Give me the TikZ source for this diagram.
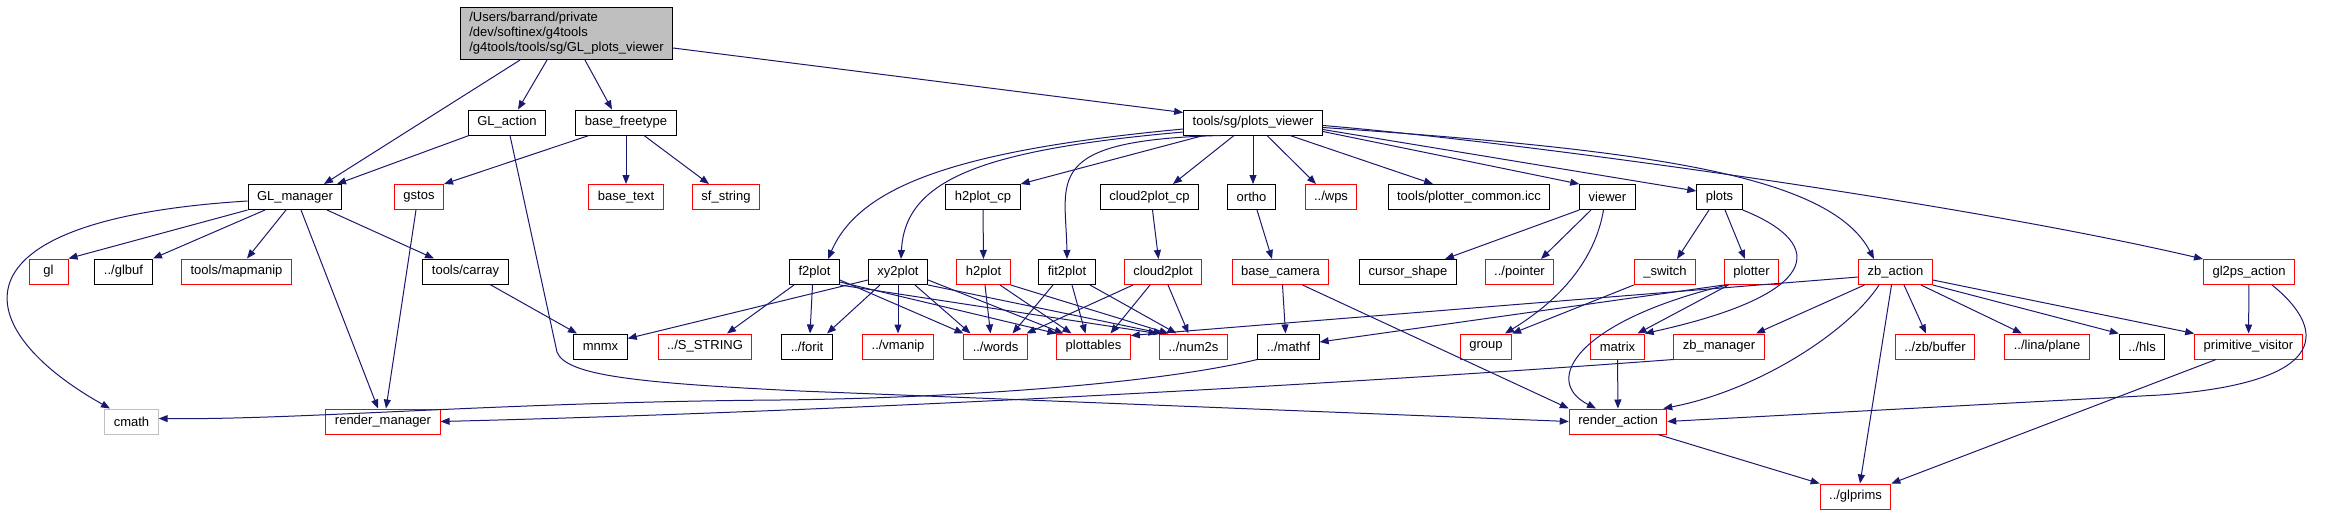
\documentclass[tikz,border=0pt]{standalone}
\usepackage{fontspec}
\setmainfont{Liberation Sans}
\usepackage{tikz}
\usetikzlibrary{arrows.meta}
\definecolor{edgeblue}{HTML}{191970}
\definecolor{rootgray}{HTML}{BFBFBF}

\begin{document}
\begin{tikzpicture}[x=1pt, y=-1pt,
    >={Triangle[length=9pt, width=7pt]},
    file/.style={draw=black, line width=1pt, fill=white, minimum height=25pt, minimum width=39pt, inner xsep=9pt, inner ysep=0pt, font=\fontsize{13}{15}\selectfont},
    undoc/.style={file, draw=red},
    syshdr/.style={file, draw=rootgray},
    mainfile/.style={file, fill=rootgray, align=left, inner ysep=5pt},
    dep/.style={->, draw=edgeblue, line width=1pt}]
    \useasboundingbox (0, 0) rectangle (2330, 515);

    % Root file
    \node[mainfile] (root) at (566.5, 33.5) {/Users/barrand/private\\/dev/softinex/g4tools\\/g4tools/tools/sg/GL\_plots\_viewer};

    % Row 2
    \node[file] (gla) at (507, 122.5) {GL\_action};
    \node[file] (bft) at (626, 122.5) {base\_freetype};
    \node[file] (psv) at (1253, 122.5) {tools/sg/plots\_viewer};

    % Row 3
    \node[file] (glm) at (295, 197) {GL\_manager};
    \node[undoc] (gst) at (419, 197) {gstos};
    \node[undoc] (btx) at (626, 197) {base\_text};
    \node[undoc] (sfs) at (726, 197) {sf\_string};
    \node[file] (h2c) at (983, 197) {h2plot\_cp};
    \node[file] (c2c) at (1149.5, 197) {cloud2plot\_cp};
    \node[file] (orth) at (1251.5, 197) {ortho};
    \node[undoc] (wps) at (1331, 197) {../wps};
    \node[file] (pcc) at (1469, 197) {tools/plotter\_common.icc};
    \node[file] (vwr) at (1607.5, 197) {viewer};
    \node[file] (plts) at (1719.5, 197) {plots};

    % Row 4
    \node[undoc] (gl) at (48.5, 271.5) {gl};
    \node[file] (glbuf) at (123.5, 271.5) {../glbuf};
    \node[undoc] (mapm) at (236.5, 271.5) {tools/mapmanip};
    \node[file] (carr) at (465.5, 271.5) {tools/carray};
    \node[file] (f2p) at (814.5, 272) {f2plot};
    \node[file] (xy2p) at (898, 272) {xy2plot};
    \node[undoc] (h2p) at (983.5, 272) {h2plot};
    \node[file] (fit) at (1067, 272) {fit2plot};
    \node[undoc] (c2p) at (1163, 272) {cloud2plot};
    \node[undoc] (bcam) at (1280.5, 272) {base\_camera};
    \node[file] (curs) at (1408, 272) {cursor\_shape};
    \node[undoc] (ptr) at (1519.5, 272) {../pointer};
    \node[undoc] (swi) at (1665, 272) {\_switch};
    \node[undoc] (pltr) at (1751.5, 272) {plotter};
    \node[undoc] (zba) at (1895.5, 272) {zb\_action};
    \node[undoc] (g2ps) at (2249, 272) {gl2ps\_action};

    % Row 5
    \node[file] (mnmx) at (600.5, 346.5) {mnmx};
    \node[undoc] (sstr) at (705, 346.5) {../S\_STRING};
    \node[file] (forit) at (807, 346.5) {../forit};
    \node[undoc] (vman) at (898, 346.5) {../vmanip};
    \node[undoc] (words) at (995.5, 346.5) {../words};
    \node[undoc] (pltb) at (1093.5, 346.5) {plottables};
    \node[undoc] (num2s) at (1193.5, 346.5) {../num2s};
    \node[file] (mathf) at (1288.5, 346.5) {../mathf};
    \node[undoc] (grp) at (1486, 346.5) {group};
    \node[undoc] (mtx) at (1617.5, 346.5) {matrix};
    \node[undoc] (zbm) at (1719, 346.5) {zb\_manager};
    \node[undoc] (zbbuf) at (1935, 346.5) {../zb/buffer};
    \node[undoc] (plane) at (2047, 346.5) {../lina/plane};
    \node[file] (hls) at (2142, 346.5) {../hls};
    \node[undoc] (pvis) at (2248.5, 346.5) {primitive\_visitor};

    % Rows 6 and 7
    \node[syshdr] (cmath) at (131.5, 421.5) {cmath};
    \node[undoc] (rman) at (383, 421.5) {render\_manager};
    \node[undoc] (ract) at (1618, 421.5) {render\_action};
    \node[undoc] (glpr) at (1855.5, 496.5) {../glprims};

    % Root includes
    \draw[dep] ([xshift=-46.5pt]root.south) -- ([xshift=29pt]glm.north);
    \draw[dep] ([xshift=-19.5pt]root.south) -- ([xshift=11pt]gla.north);
    \draw[dep] ([xshift=18.5pt]root.south) -- ([xshift=-14pt]bft.north);
    \draw[dep] ([yshift=-14.5pt]root.east) -- ([yshift=10pt]psv.west);

    % GL_action, base_freetype
    \draw[dep] ([xshift=-38pt]gla.south) -- ([xshift=42pt]glm.north);
    \draw[dep] ([xshift=3pt]gla.south) -- (557, 352) .. controls (566, 376) and (640, 383) .. (800, 391) -- (ract.west);
    \draw[dep] ([xshift=-37pt]bft.south) -- (gst.north east);
    \draw[dep] (bft) -- (btx);
    \draw[dep] ([xshift=18pt]bft.south) -- ([xshift=-17pt]sfs.north);

    % GL_manager
    \draw[dep] ([yshift=-4pt]glm.west) .. controls (-60, 220) and (-30, 330) .. ([xshift=-21.5pt]cmath.north);
    \draw[dep] (glm.south west) -- (gl.north east);
    \draw[dep] ([xshift=-30pt]glm.south) -- ([xshift=29.5pt]glbuf.north);
    \draw[dep] ([xshift=-9pt]glm.south) -- ([xshift=10.5pt]mapm.north);
    \draw[dep] ([xshift=6pt]glm.south) -- ([xshift=-5pt]rman.north);
    \draw[dep] ([xshift=32pt]glm.south) -- ([xshift=-31.5pt]carr.north);
    \draw[dep] ([xshift=-3pt]gst.south) -- ([xshift=3pt]rman.north);
    \draw[dep] ([xshift=24.5pt]carr.south) -- ([xshift=-23.5pt]mnmx.north);

    % plots_viewer
    \draw[dep] ([yshift=-6.5pt]psv.west) .. controls (960, 150) and (860, 185) .. ([xshift=13.5pt]f2p.north);
    \draw[dep] ([yshift=-9.5pt]psv.west) .. controls (980, 150) and (905, 180) .. ([xshift=3pt]xy2p.north);
    \draw[dep] ([xshift=-49.5pt]psv.south) -- (h2c.north east);
    \draw[dep] ([xshift=-32pt]psv.south) .. controls (1040, 140) and (1066, 180) .. (fit.north);
    \draw[dep] ([xshift=-19pt]psv.south) -- ([xshift=23.5pt]c2c.north);
    \draw[dep] (psv.south) -- ([xshift=1.5pt]orth.north);
    \draw[dep] ([xshift=14pt]psv.south) -- ([xshift=-15pt]wps.north);
    \draw[dep] ([xshift=37pt]psv.south) -- ([xshift=-36pt]pcc.north);
    \draw[dep] ([yshift=-9pt]psv.east) -- (vwr.north west);
    \draw[dep] ([yshift=-7pt]psv.east) -- ([yshift=6pt]plts.west);
    \draw[dep] ([yshift=-5pt]psv.east) .. controls (1650, 150) and (1830, 175) .. ([xshift=-21.5pt]zba.north);
    \draw[dep] ([yshift=-3pt]psv.east) .. controls (1500, 140) and (1950, 200) .. (g2ps.north west);

    % h2plot_cp, cloud2plot_cp, ortho
    \draw[dep] (h2c) -- (h2p);
    \draw[dep] ([xshift=3pt]c2c.south) -- ([xshift=-4.5pt]c2p.north);
    \draw[dep] ([xshift=5.5pt]orth.south) -- ([xshift=-8.5pt]bcam.north);

    % viewer, plots
    \draw[dep] (vwr.south west) -- ([xshift=37pt]curs.north);
    \draw[dep] ([xshift=-16.5pt]vwr.south) -- ([xshift=21.5pt]ptr.north);
    \draw[dep] ([xshift=-4pt]vwr.south) .. controls (1595, 260) and (1560, 300) .. ([xshift=19pt]grp.north);
    \draw[dep] ([xshift=-10.5pt]plts.south) -- ([xshift=12pt]swi.north);
    \draw[dep] ([xshift=5.5pt]plts.south) -- ([xshift=-6.5pt]pltr.north);
    \draw[dep] (plts.south east) .. controls (1830, 245) and (1820, 295) .. (mtx.north east);

    % _switch, plotter
    \draw[dep] (swi.south west) -- (grp.north east);
    \draw[dep] (pltr.south west) -- ([yshift=4.5pt]mathf.east);
    \draw[dep] ([xshift=-24.5pt]pltr.south) .. controls (1580, 320) and (1540, 380) .. ([xshift=-22pt]ract.north);
    \draw[dep] ([xshift=-23pt]pltr.south) -- ([xshift=20pt]mtx.north);

    % f2plot, xy2plot
    \draw[dep] ([xshift=-20.5pt]f2p.south) -- ([xshift=22pt]sstr.north);
    \draw[dep] ([xshift=-2pt]f2p.south) -- ([xshift=3pt]forit.north);
    \draw[dep] ([yshift=-8pt]f2p.east) -- ([xshift=-32pt]words.north);
    \draw[dep] ([yshift=-10pt]f2p.east) -- ([xshift=-37pt]pltb.north);
    \draw[dep] (f2p.south east) -- ([xshift=-36pt]num2s.north);
    \draw[dep] ([yshift=-8pt]xy2p.west) -- ([yshift=8pt]mnmx.east);
    \draw[dep] ([xshift=-18pt]xy2p.south) -- ([xshift=20pt]forit.north);
    \draw[dep] (xy2p) -- (vman);
    \draw[dep] ([xshift=17pt]xy2p.south) -- ([xshift=-25pt]words.north);
    \draw[dep] ([yshift=-8pt]xy2p.east) -- ([xshift=-30pt]pltb.north);
    \draw[dep] (xy2p.south east) -- ([xshift=-31pt]num2s.north);

    % h2plot, fit2plot, cloud2plot
    \draw[dep] ([xshift=1.5pt]h2p.south) -- ([xshift=-5pt]words.north);
    \draw[dep] ([xshift=16.5pt]h2p.south) -- ([xshift=-22pt]pltb.north);
    \draw[dep] (h2p.south east) -- ([xshift=-25pt]num2s.north);
    \draw[dep] ([xshift=-14pt]fit.south) -- ([xshift=17pt]words.north);
    \draw[dep] ([xshift=5pt]fit.south) -- ([xshift=-8pt]pltb.north);
    \draw[dep] ([xshift=23pt]fit.south) -- ([xshift=-17pt]num2s.north);
    \draw[dep] ([xshift=-30pt]c2p.south) -- ([xshift=31pt]words.north);
    \draw[dep] ([xshift=-13pt]c2p.south) -- ([xshift=17pt]pltb.north);
    \draw[dep] ([xshift=5pt]c2p.south) -- ([xshift=-5pt]num2s.north);

    % base_camera, mathf
    \draw[dep] ([xshift=2pt]bcam.south) -- ([xshift=-3pt]mathf.north);
    \draw[dep] ([xshift=22pt]bcam.south) -- (ract.north west);
    \draw[dep] (mathf.south west) .. controls (1150, 385) and (950, 398) .. (780, 400) .. controls (500, 402) and (300, 420) .. ([yshift=3pt]cmath.east);

    % zb_action
    \draw[dep] ([yshift=-5pt]zba.west) -- ([yshift=-2pt]pltb.north east);
    \draw[dep] ([xshift=-31pt]zba.south) -- ([xshift=37pt]zbm.north);
    \draw[dep] ([xshift=-16.5pt]zba.south) .. controls (1850, 330) and (1760, 390) .. ([xshift=-4pt]ract.north east);
    \draw[dep] ([xshift=-4pt]zba.south) -- ([xshift=4.5pt]glpr.north);
    \draw[dep] ([xshift=8.5pt]zba.south) -- ([xshift=-9pt]zbbuf.north);
    \draw[dep] ([xshift=25.5pt]zba.south) -- ([xshift=-25pt]plane.north);
    \draw[dep] (zba.south east) -- (hls.north west);
    \draw[dep] ([yshift=-8pt]zba.east) -- (pvis.north west);

    % gl2ps_action, primitive_visitor
    \draw[dep] (g2ps) -- (pvis);
    \draw[dep] ([xshift=23pt]g2ps.south) .. controls (2322, 325) and (2340, 382) .. (2160, 395) -- (ract.east);
    \draw[dep] ([xshift=-32.5pt]pvis.south) -- (glpr.north east);

    % zb_manager, matrix, render_action
    \draw[dep] (zbm.south west) .. controls (1400, 380) and (900, 410) .. (rman.east);
    \draw[dep] (mtx) -- (ract);
    \draw[dep] ([xshift=40pt]ract.south) -- (glpr.north west);
\end{tikzpicture}
\end{document}
